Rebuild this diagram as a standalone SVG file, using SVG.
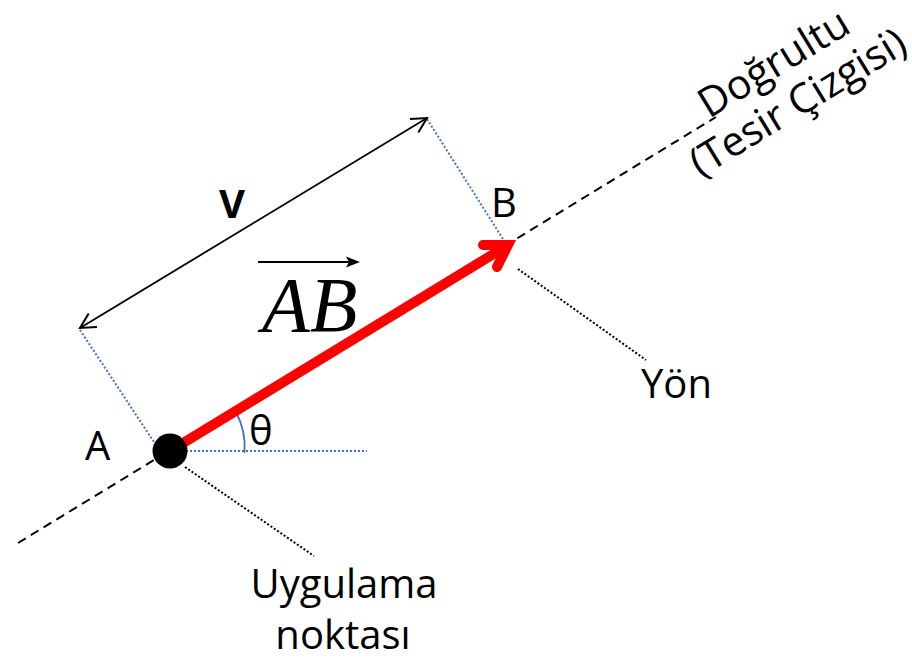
<svg xmlns="http://www.w3.org/2000/svg" width="912" height="659" viewBox="0 0 912 659">
<defs>
<style>
.lbl{font-family:"Open Sans","Liberation Sans",sans-serif;font-size:40px;fill:#000}
.rot{font-family:"Open Sans","Liberation Sans",sans-serif;font-size:41px;fill:#000}
.dash{stroke:#000;stroke-width:2;stroke-dasharray:9,6;fill:none}
.dotk{stroke:#000;stroke-width:2;stroke-dasharray:2,2;fill:none}
.dotb{stroke:#4472C4;stroke-width:2;stroke-dasharray:2,2;fill:none}
</style>
<marker id="open" viewBox="0 0 20 20" refX="18" refY="10" markerWidth="20" markerHeight="20" markerUnits="userSpaceOnUse" orient="auto-start-reverse">
<path d="M3,2 L18,10 L3,18" fill="none" stroke="#000" stroke-width="2"/>
</marker>
</defs>
<rect width="912" height="659" fill="#fff"/>
<g id="connectors">
<line class="dash" x1="18" y1="543" x2="716" y2="117"/>
<line class="dotb" x1="80" y1="330" x2="154" y2="442"/>
<line class="dotb" x1="427" y1="119" x2="503" y2="239"/>
<line class="dotb" x1="186" y1="451" x2="367" y2="451"/>
<path d="M236,412 A75,75 0 0 1 244.5,453" fill="none" stroke="#4472C4" stroke-width="1.8"/>
<line class="dotk" x1="185" y1="467" x2="314" y2="556"/>
<line class="dotk" x1="518" y1="269" x2="646" y2="360"/>
<line x1="80" y1="328" x2="427" y2="118" stroke="#000" stroke-width="1.8" marker-start="url(#open)" marker-end="url(#open)"/>
<g id="vectorAB">
<line x1="170" y1="451" x2="505" y2="247" stroke="#FF0000" stroke-width="10"/>
<path d="M483,245 L508,245 L497,267" fill="none" stroke="#FF0000" stroke-width="10" stroke-linecap="round" stroke-linejoin="miter"/>
</g>
</g>
<g id="pointA">
<circle cx="170" cy="451" r="17.5" fill="#000"/>
<text class="lbl" x="85" y="460">A</text>
</g>
<g id="pointB"><text class="lbl" x="491" y="217">B</text></g>
<g id="labelV"><text class="lbl" x="219" y="218" font-weight="bold">V</text></g>
<g id="labelAB">
<line x1="258" y1="262" x2="352" y2="262" stroke="#000" stroke-width="2.2"/>
<path d="M360,262 L346,256.5 L349,262 L346,267.5 Z" fill="#000"/>
<text x="262" y="331" font-family="'Liberation Serif','Times New Roman',serif" font-style="italic" font-size="78">AB</text>
</g>
<g id="labelTheta"><text class="lbl" x="249" y="445">θ</text></g>
<g id="labelYon"><text class="lbl" x="641" y="398">Yön</text></g>
<g id="labelUygulama">
<text class="lbl" x="344" y="598" text-anchor="middle">Uygulama</text>
<text class="lbl" x="343" y="649" text-anchor="middle">noktası</text>
</g>
<g id="labelDogrultu" transform="translate(781,75) rotate(-31.4)">
<text class="rot" x="0" y="0" text-anchor="middle">Doğrultu</text>
<text class="rot" x="0" y="46" text-anchor="middle">(Tesir Çizgisi)</text>
</g>
</svg>
